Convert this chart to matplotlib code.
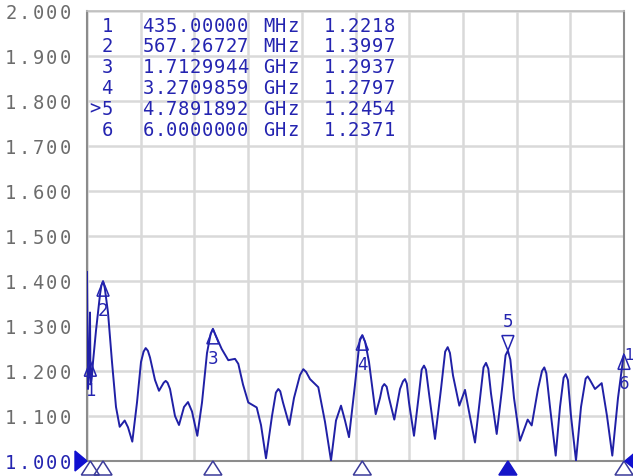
import numpy as np
import matplotlib
matplotlib.use("Agg")
import matplotlib.pyplot as plt
from matplotlib.patches import Polygon

# trace (GHz, VSWR)
freq_ghz = [0.4, 0.4104, 0.4209, 0.4313, 0.435, 0.4417, 0.4521, 0.4626, 0.4939, 0.5356,
            0.55, 0.5673, 0.585, 0.619, 0.6607, 0.7024, 0.741, 0.793, 0.8276, 0.8724,
            0.9214, 0.9631, 0.99, 1.0121, 1.035, 1.057, 1.1091, 1.1508, 1.20, 1.2207,
            1.24, 1.2656, 1.3177, 1.3594, 1.4116, 1.4533, 1.495, 1.5503, 1.5993, 1.6514,
            1.69, 1.713, 1.74, 1.8047, 1.8735, 1.9434, 1.9778, 2.0268, 2.0821, 2.1697,
            2.2145, 2.2667, 2.3292, 2.37, 2.3949, 2.415, 2.4439, 2.5096, 2.5586, 2.6212,
            2.6556, 2.685, 2.7255, 2.812, 2.8819, 2.9445, 2.9966, 3.0488, 3.0905, 3.1322,
            3.1948, 3.245, 3.271, 3.30, 3.3408, 3.4107, 3.4555, 3.48, 3.5004, 3.525,
            3.5494, 3.6046, 3.664, 3.695, 3.7162, 3.735, 3.7579, 3.81, 3.8622, 3.89,
            3.9143, 3.935, 3.9665, 4.029, 4.0916, 4.135, 4.1615, 4.185, 4.2168, 4.2825,
            4.3419, 4.3836, 4.4462, 4.4983, 4.535, 4.5609, 4.585, 4.613, 4.6725, 4.7278,
            4.765, 4.7892, 4.815, 4.8529, 4.9154, 4.9957, 5.0374, 5.1031, 5.145, 5.1688,
            5.19, 5.2283, 5.2877, 5.3326, 5.37, 5.392, 5.415, 5.4473, 5.4994, 5.5516,
            5.60, 5.6215, 5.645, 5.6976, 5.7674, 5.8227, 5.878, 5.9374, 5.9927, 6.0]
vswr = [1.42, 1.16, 1.19, 1.33, 1.2218, 1.17, 1.19, 1.22, 1.29, 1.37,
        1.39, 1.3997, 1.385, 1.33, 1.22, 1.12, 1.076, 1.090, 1.075, 1.043,
        1.13, 1.22, 1.243, 1.251, 1.245, 1.23, 1.18, 1.156, 1.174, 1.178,
        1.174, 1.16, 1.10, 1.080, 1.12, 1.131, 1.11, 1.056, 1.13, 1.24,
        1.283, 1.2937, 1.28, 1.249, 1.224, 1.227, 1.216, 1.17, 1.130, 1.119,
        1.08, 1.006, 1.10, 1.152, 1.160, 1.155, 1.13, 1.080, 1.14, 1.191,
        1.204, 1.198, 1.182, 1.164, 1.087, 1.001, 1.09, 1.123, 1.09, 1.053,
        1.17, 1.27, 1.2797, 1.265, 1.22, 1.104, 1.14, 1.165, 1.171, 1.165,
        1.14, 1.092, 1.16, 1.177, 1.182, 1.172, 1.13, 1.056, 1.15, 1.203,
        1.212, 1.203, 1.15, 1.049, 1.16, 1.243, 1.253, 1.24, 1.19, 1.123,
        1.158, 1.11, 1.041, 1.14, 1.208, 1.218, 1.205, 1.15, 1.060, 1.16,
        1.235, 1.2454, 1.225, 1.14, 1.045, 1.092, 1.079, 1.16, 1.2, 1.208,
        1.195, 1.12, 1.012, 1.12, 1.185, 1.193, 1.18, 1.10, 1.001, 1.12,
        1.183, 1.188, 1.18, 1.160, 1.173, 1.10, 1.012, 1.14, 1.230, 1.2371]

# markers
marker_names = ["1", "2", "3", "4", ">5", "6"]
marker_freq = [0.435, 0.56726727, 1.7129944, 3.2709859, 4.7891892, 6.0]
marker_vswr = [1.2218, 1.3997, 1.2937, 1.2797, 1.2454, 1.2371]
freq_text = ["435.00000", "567.26727", "1.7129944", "3.2709859", "4.7891892", "6.0000000"]
unit_text = ["MHz", "MHz", "GHz", "GHz", "GHz", "GHz"]
active_marker = 4

ytick_vals = [1.0, 1.1, 1.2, 1.3, 1.4, 1.5, 1.6, 1.7, 1.8, 1.9, 2.0]

W, H = 633, 477
BLUE = "#2424b0"
TRACE = "#2020a6"
GRAY = "#6c6c6c"
MONO = "DejaVu Sans Mono"

fig = plt.figure(figsize=(W / 100, H / 100), dpi=100)
ax = fig.add_axes([87 / W, 15 / H, 537 / W, 450 / H])
ax.set_xlim(0.4, 6.0)
ax.set_ylim(1.0, 2.0)
ax.set_xticks(np.linspace(0.4, 6.0, 11))
ax.set_yticks(ytick_vals)
ax.tick_params(length=0, labelbottom=False, labelleft=False)
ax.grid(True, color="#d9d9d9", linewidth=1.8)
ax.set_axisbelow(True)
for side in ["left", "bottom", "right"]:
    ax.spines[side].set_color("#8c8c8c")
    ax.spines[side].set_linewidth(1.5)
ax.spines["top"].set_color("#bdbdbd")
ax.spines["top"].set_linewidth(1.2)

ax.plot(freq_ghz, vswr, color=TRACE, linewidth=1.4, zorder=3)


def px_to_fig(x, y):
    return x / W, 1 - y / H


def mono_text(x, y_base, s, size, color, pitch, ha="left"):
    # fixed pitch text, placed char by char
    n = len(s)
    x0 = x if ha == "left" else x - n * pitch
    for i, ch in enumerate(s):
        fx, fy = px_to_fig(x0 + (i + 0.5) * pitch, y_base)
        fig.text(fx, fy, ch, fontsize=size, color=color, family=MONO,
                 ha="center", va="baseline")


# y tick labels
for v in ytick_vals:
    yp = 462 - (v - 1.0) * 450
    col = BLUE if v == 1.0 else GRAY
    mono_text(72, yp + 6.6, "%.3f" % v, 13.5, col, 13.6, ha="right")

# marker table
for i in range(len(marker_names)):
    yb = 31.5 + 20.8 * i
    mono_text(113, yb, marker_names[i], 13.5, BLUE, 11.85, ha="right")
    mono_text(142, yb, freq_text[i], 13.5, BLUE, 11.85)
    mono_text(263, yb, unit_text[i], 13.5, BLUE, 11.85)
    mono_text(395, yb, "%.4f" % marker_vswr[i], 13.5, BLUE, 11.85, ha="right")

# markers on the trace and on the x axis
fig.canvas.draw()
to_disp = ax.transData.transform
for i in range(len(marker_freq)):
    xd, yd = to_disp((marker_freq[i], marker_vswr[i]))
    label = marker_names[i].replace(">", "")
    if i == active_marker:
        tri = [(xd, yd), (xd - 6, yd + 15), (xd + 6, yd + 15)]
        fig.text(xd / W, (yd + 30) / H, label, fontsize=12, color=BLUE,
                 ha="center", va="center")
    else:
        tri = [(xd, yd), (xd - 6, yd - 15), (xd + 6, yd - 15)]
        fig.text(xd / W, (yd - 29) / H, label, fontsize=12, color=BLUE,
                 ha="center", va="center")
    fig.patches.append(Polygon(tri, closed=True, fill=False, edgecolor=BLUE,
                               linewidth=1.1, transform=None, zorder=5))
    # axis marker
    xa, ya = to_disp((marker_freq[i], 1.0))
    base = [(xa, ya), (xa - 9, ya - 14), (xa + 9, ya - 14)]
    filled = i == active_marker
    fig.patches.append(Polygon(base, closed=True, fill=filled,
                               facecolor="#1515c8", edgecolor="#1515c8" if filled else "#3a3a9a",
                               linewidth=1.1, transform=None, zorder=5))

# "1" near the right edge
fig.text(624 / W, 1 - 356 / H, "1", fontsize=11, color=BLUE, ha="left", va="center")

# reference position arrows
xl, yl = to_disp((0.4, 1.0))
fig.patches.append(Polygon([(xl, yl), (xl - 12, yl + 10), (xl - 12, yl - 10)],
                           closed=True, facecolor="#1010d0", edgecolor="#1010d0",
                           transform=None, zorder=5))
xr, yr = to_disp((6.0, 1.0))
fig.patches.append(Polygon([(xr + 1, yr), (xr + 13, yr + 10), (xr + 13, yr - 10)],
                           closed=True, facecolor="#1010d0", edgecolor="#1010d0",
                           transform=None, zorder=5))

fig.savefig("out.png", dpi=100)
